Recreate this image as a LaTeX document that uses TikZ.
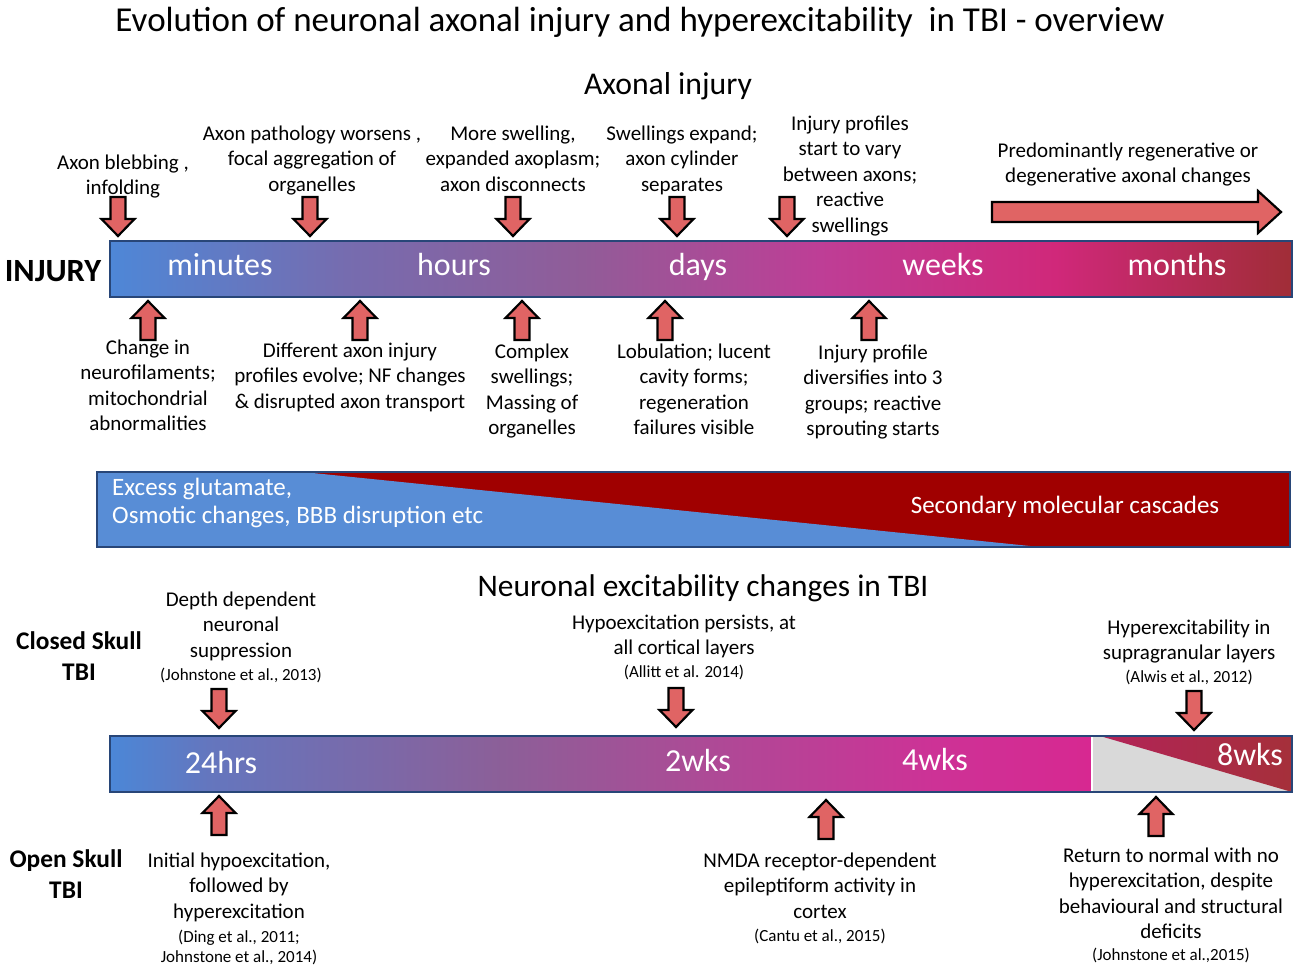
\documentclass[tikz,border=0pt]{standalone}
\usepackage{fontspec}
\setmainfont{Carlito}
\definecolor{arrfill}{RGB}{224,100,100}
\definecolor{barline}{RGB}{40,70,120}
\definecolor{cblue}{RGB}{88,141,214}
\definecolor{cred}{RGB}{160,0,0}
\definecolor{grtri}{RGB}{217,217,217}
\definecolor{ba}{RGB}{78,135,215}
\definecolor{bb}{RGB}{118,108,175}
\definecolor{bc}{RGB}{145,92,152}
\definecolor{bd}{RGB}{190,62,150}
\definecolor{be}{RGB}{208,40,122}
\definecolor{bf}{RGB}{160,45,55}
\definecolor{ga}{RGB}{75,135,215}
\definecolor{gb}{RGB}{100,118,190}
\definecolor{gc}{RGB}{140,95,152}
\definecolor{gd}{RGB}{172,75,150}
\definecolor{ge}{RGB}{205,50,150}
\definecolor{gf}{RGB}{215,40,145}
\definecolor{ka}{RGB}{178,35,88}
\definecolor{kb}{RGB}{165,48,58}
\pgfdeclarehorizontalshading{barone}{100bp}{color(0bp)=(ba); color(25bp)=(ba); color(35bp)=(bb); color(45bp)=(bc); color(55bp)=(bd); color(65bp)=(be); color(75bp)=(bf); color(100bp)=(bf)}
\pgfdeclarehorizontalshading{bartwo}{100bp}{color(0bp)=(ga); color(25bp)=(ga); color(30bp)=(gb); color(45bp)=(gc); color(55bp)=(gd); color(67bp)=(ge); color(75bp)=(gf); color(100bp)=(gf)}
\pgfdeclarehorizontalshading{crim}{100bp}{color(0bp)=(ka); color(25bp)=(ka); color(75bp)=(kb); color(100bp)=(kb)}
\tikzset{
  arrowsty/.style={fill=arrfill, draw=black, line width=2.2pt, line join=miter},
  downarr/.pic={\path[arrowsty] (-7.5,-39) -- (7.5,-39) -- (7.5,-17) -- (16.5,-17) -- (0,0) -- (-16.5,-17) -- (-7.5,-17) -- cycle;},
  uparr/.pic={\path[arrowsty] (-7.5,39) -- (7.5,39) -- (7.5,17) -- (16.5,17) -- (0,0) -- (-16.5,17) -- (-7.5,17) -- cycle;},
  note/.style={align=center, inner sep=0pt, anchor=north, font=\fontsize{21}{25.5}\selectfont},
  barlbl/.style={text=white, inner sep=0pt, anchor=base, font=\fontsize{32}{36}\selectfont},
  head/.style={inner sep=0pt, anchor=base, font=\fontsize{35}{40}\selectfont},
  subhead/.style={inner sep=0pt, anchor=base, font=\fontsize{31.7}{36}\selectfont},
  side/.style={align=center, inner sep=0pt, anchor=north, font=\bfseries\fontsize{25.4}{31}\selectfont},
  casc/.style={text=white, inner sep=0pt, font=\fontsize{25}{28}\selectfont},
  barframe/.style={draw=barline, line width=2.5pt},
}
\newcommand{\cit}[1]{{\fontsize{17}{20}\selectfont #1}}
\begin{document}
\begin{tikzpicture}[x=1pt,y=-1pt]
\useasboundingbox (0,0) rectangle (1300,972);
% titles
\node[head] (title) at (640,31) {Evolution of neuronal axonal injury and hyperexcitability\ \ in TBI - overview};
\node[subhead] (axhead) at (668,94) {Axonal injury};
\node[subhead, font=\fontsize{31.4}{36}\selectfont] (exhead) at (703,596) {Neuronal excitability changes in TBI};
% bar 1
\shade[shading=barone] (110,241) rectangle (1292,297);
\draw[barframe] (110,241) rectangle (1292,297);
\node[inner sep=0pt, anchor=base, font=\bfseries\fontsize{32.4}{36}\selectfont] (injury) at (53,281) {INJURY};
\node[barlbl] (minutes) at (220,275) {minutes};
\node[barlbl] (hours) at (454,275) {hours};
\node[barlbl] (days) at (698,275) {days};
\node[barlbl] (weeks) at (943,275) {weeks};
\node[barlbl] (months) at (1177,275) {months};
% arrows bar 1
\pic at (118,236) {downarr};
\pic at (310,236) {downarr};
\pic at (513,236) {downarr};
\pic at (677,236) {downarr};
\pic at (787,236) {downarr};
\pic at (148,301) {uparr};
\pic at (360,301) {uparr};
\pic at (522,301) {uparr};
\pic at (665,301) {uparr};
\pic at (869,301) {uparr};
\path[arrowsty] (992,202) -- (1258,202) -- (1258,191) -- (1281,212) -- (1258,233) -- (1258,222) -- (992,222) -- cycle;
% notes bar 1
\node[note] (a1) at (123,151) {\strut Axon blebbing ,\\infolding};
\node[note] (a2) at (312,122) {\strut Axon pathology worsens ,\\focal aggregation of\\organelles};
\node[note] (a3) at (513,122) {\strut More swelling,\\expanded axoplasm;\\axon disconnects};
\node[note] (a4) at (682,122) {\strut Swellings expand;\\axon cylinder\\separates};
\node[note] (a5) at (850,112) {\strut Injury profiles\\start to vary\\between axons;\\reactive\\swellings};
\node[note] (a6) at (1128,139) {\strut Predominantly regenerative or\\degenerative axonal changes};
\node[note] (b1) at (148,336) {\strut Change in\\neurofilaments;\\mitochondrial\\abnormalities};
\node[note] (b2) at (350,339) {\strut Different axon injury\\profiles evolve; NF changes\\\& disrupted axon transport};
\node[note] (b3) at (532,340) {\strut Complex\\swellings;\\Massing of\\organelles};
\node[note] (b4) at (694,340) {\strut Lobulation; lucent\\cavity forms;\\regeneration\\failures visible};
\node[note] (b5) at (873,341) {\strut Injury profile\\diversifies into 3\\groups; reactive\\sprouting starts};
% cascade bar
\fill[cred] (97,472) rectangle (1290,547);
\fill[cblue] (97,472) -- (303,472) -- (1040,547) -- (97,547) -- cycle;
\draw[barframe] (97,472) rectangle (1290,547);
\node[casc, align=left, anchor=north west] (glu) at (112,475.4) {\strut Excess glutamate,\\Osmotic changes, BBB disruption etc};
\node[casc, anchor=base] (sec) at (1065,513) {Secondary molecular cascades};
% bar 2
\shade[shading=bartwo] (110,736) rectangle (1092,792);
\fill[grtri] (1092,736) rectangle (1292,792);
\shade[shading=crim] (1100,736) -- (1292,736) -- (1292,792) -- cycle;
\draw[white, line width=1.5pt] (1092,737) -- (1092,791);
\draw[barframe] (110,736) rectangle (1292,792);
\node[barlbl] (h24) at (221,773) {24hrs};
\node[barlbl] (w2) at (698,771) {2wks};
\node[barlbl] (w4) at (935,770) {4wks};
\node[barlbl] (w8) at (1250,765) {8wks};
\node[side] (closed) at (79,628) {\strut Closed Skull\\TBI};
\node[side] (open) at (66,846) {\strut Open Skull\\TBI};
% arrows bar 2
\pic at (219,728) {downarr};
\pic at (676,727) {downarr};
\pic at (1194,730) {downarr};
\pic at (219,796) {uparr};
\pic at (826,800) {uparr};
\pic at (1156,797) {uparr};
% notes bar 2
\node[note] (c1) at (241,588) {\strut Depth dependent\\neuronal\\suppression\\[-2.5pt]\cit{(Johnstone et al., 2013)}};
\node[note] (c2) at (684,611) {\strut Hypoexcitation persists, at\\all cortical layers\\[-2.5pt]\cit{(Allitt et al. 2014)}};
\node[note] (c3) at (1189,616) {\strut Hyperexcitability in\\supragranular layers\\[-2.5pt]\cit{(Alwis et al., 2012)}};
\node[note] (d1) at (239,849) {\strut Initial hypoexcitation,\\followed by\\hyperexcitation\\[-1.5pt]\cit{(Ding et al., 2011;}\\[-5.5pt]\cit{Johnstone et al., 2014)}};
\node[note] (d2) at (820,849) {\strut NMDA receptor-dependent\\epileptiform activity in\\cortex\\[-2.5pt]\cit{(Cantu et al., 2015)}};
\node[note] (d3) at (1171,844) {\strut Return to normal with no\\hyperexcitation, despite\\behavioural and structural\\deficits\\[-3.5pt]\cit{(Johnstone et al.,2015)}};
\end{tikzpicture}
\end{document}
